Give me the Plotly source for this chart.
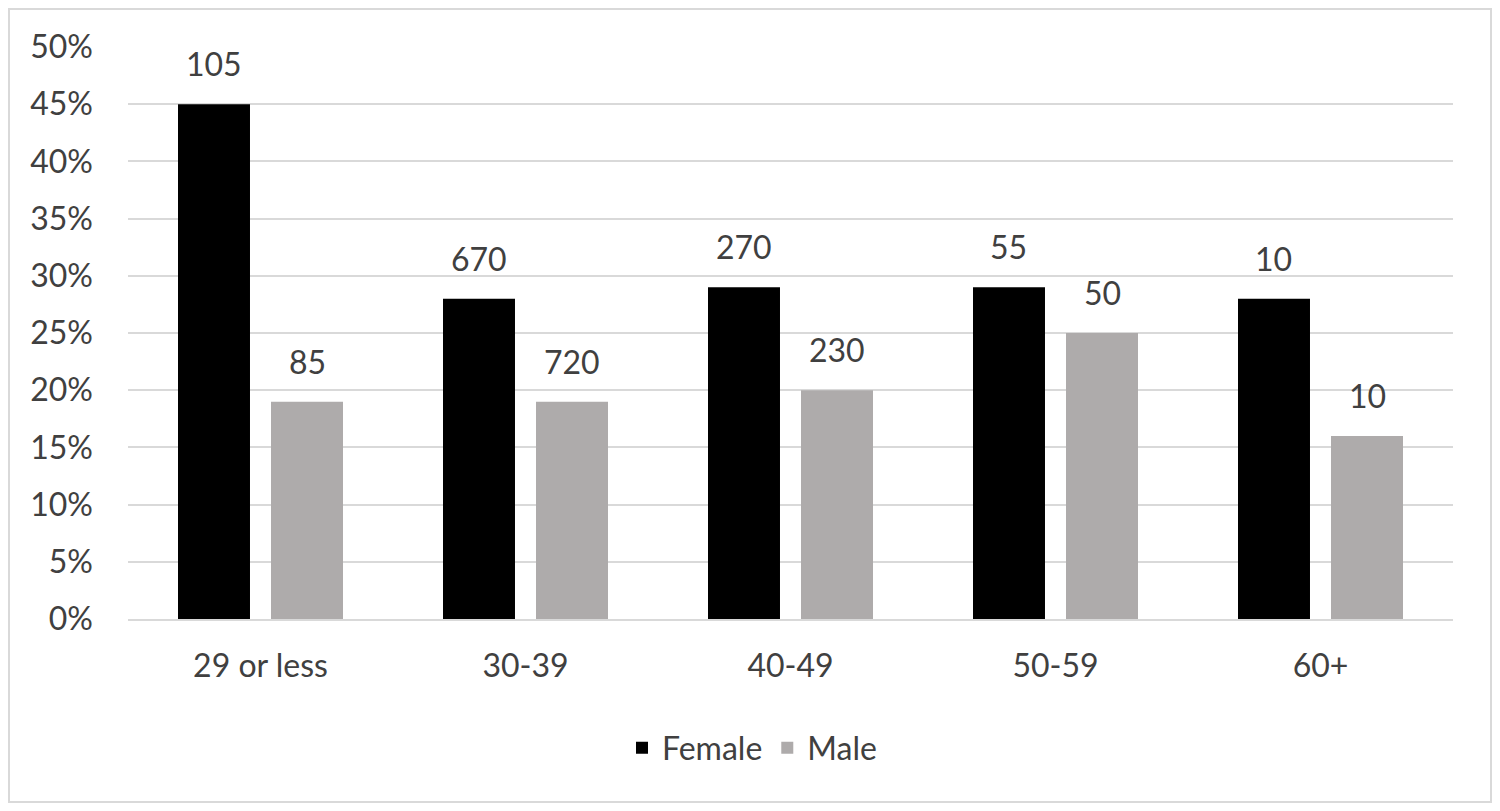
import plotly.graph_objects as go

# age groups and the two series (share in %, label counts)
categories = ["29 or less", "30-39", "40-49", "50-59", "60+"]
female_pct = [45, 28, 29, 29, 28]
male_pct = [19, 19, 20, 25, 16]
female_n = [105, 670, 270, 55, 10]
male_n = [85, 720, 230, 50, 10]

FEMALE_COLOR = "#000000"
MALE_COLOR = "#AEABAB"
TEXT_COLOR = "#404040"
GRID_COLOR = "#D9D9D9"
FONT = "Lato, 'Open Sans', sans-serif"

# the page body has an 8px margin, so the figure is a bit smaller than the window
OFF = 8
W, H = 1500 - 2 * OFF, 811 - 2 * OFF
L, R, T, B = 128 - OFF, 1500 - 1453 - OFF, 47 - OFF, 811 - 619 - OFF
plot_w = W - L - R
plot_h = H - T - B

fig = go.Figure()
fig.add_trace(go.Bar(x=categories, y=female_pct, name="Female",
                     marker=dict(color=FEMALE_COLOR, line=dict(width=0))))
fig.add_trace(go.Bar(x=categories, y=male_pct, name="Male",
                     marker=dict(color=MALE_COLOR, line=dict(width=0))))

# count labels above each bar
slot = plot_w / len(categories) * (1 - 0.298) / 2
for series, counts, shift in [(female_pct, female_n, -slot / 2), (male_pct, male_n, slot / 2)]:
    for cat, val, n in zip(categories, series, counts):
        fig.add_annotation(x=cat, y=val, text=str(n), showarrow=False,
                           xshift=shift, yshift=19, yanchor="bottom",
                           font=dict(family=FONT, size=32, color=TEXT_COLOR))

# helpers: page pixel -> paper coordinate
def px_x(p):
    return (p - OFF - L) / plot_w

def px_y(p):
    return (H - B - (p - OFF)) / plot_h

# light grey border round the whole chart (kept just inside the figure)
fig.add_shape(type="rect", xref="paper", yref="paper",
              x0=px_x(OFF + 1), x1=px_x(1491), y0=px_y(OFF + 1), y1=px_y(811 - OFF - 1),
              line=dict(color=GRID_COLOR, width=2), layer="below")

fig.update_layout(
    width=W, height=H,
    margin=dict(l=L, r=R, t=T, b=B),
    paper_bgcolor="white", plot_bgcolor="white",
    barmode="group", bargap=0.298, bargroupgap=0.226,
    font=dict(family=FONT, size=32, color=TEXT_COLOR),
    showlegend=True,
    legend=dict(orientation="h", x=px_x(752), xanchor="center", y=px_y(748), yanchor="middle",
                font=dict(family=FONT, size=32, color=TEXT_COLOR), itemwidth=30),
    xaxis=dict(showgrid=False, showline=True, linecolor=GRID_COLOR, linewidth=2,
               ticks="", ticklabelstandoff=18, tickfont=dict(size=32, color=TEXT_COLOR)),
    yaxis=dict(range=[0, 50], dtick=5, ticksuffix="%", showgrid=True, gridcolor=GRID_COLOR,
               gridwidth=2, zeroline=False, showline=False, ticks="", ticklabelstandoff=34,
               tickfont=dict(size=32, color=TEXT_COLOR)),
)

fig.write_html("out.html")
